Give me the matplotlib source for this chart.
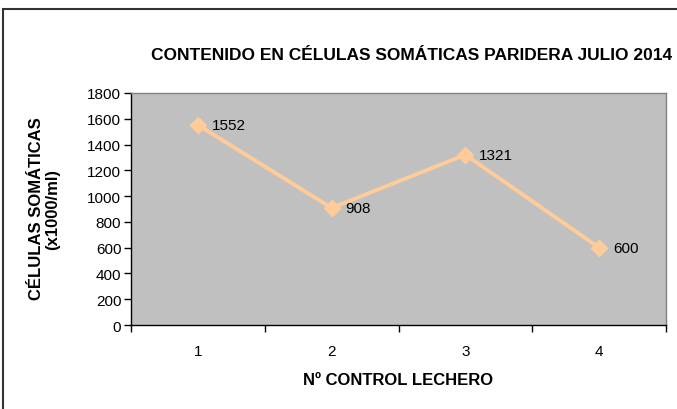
import matplotlib
matplotlib.use("Agg")
import matplotlib.pyplot as plt
from matplotlib.patches import Rectangle

plt.rcParams['font.family'] = ['Liberation Sans', 'DejaVu Sans']

categories = [1, 2, 3, 4]
values = [1552, 908, 1321, 600]
yticks = [0, 200, 400, 600, 800, 1000, 1200, 1400, 1600, 1800]
title = "CONTENIDO EN CÉLULAS SOMÁTICAS PARIDERA JULIO 2014"
ylabel = "CÉLULAS SOMÁTICAS\n(x1000/ml)"
xlabel = "Nº CONTROL LECHERO"

W, H = 677, 410
fig = plt.figure(figsize=(W/100, H/100), dpi=100)
fig.patch.set_facecolor('white')

# outer chart border
fig.add_artist(Rectangle((3/W, -0.1), 1.2, (H-10)/H + 0.1, transform=fig.transFigure,
                         fill=False, edgecolor='#333333', linewidth=1.5))

left, right, top, bottom = 131, 666, 94, 326
ax = fig.add_axes([left/W, 1-bottom/H, (right-left)/W, (bottom-top)/H])
ax.set_facecolor('#C0C0C0')

ax.plot(categories, values, color='#FFCC99', linewidth=2.8, marker='D',
        markersize=8.5, markerfacecolor='#FFCC99', markeredgecolor='#FFCC99', zorder=3)
for x, v in zip(categories, values):
    ax.annotate(str(v), (x, v), xytext=(10, 0), textcoords='offset points',
                ha='left', va='center', fontsize=11, color='black')

ax.set_xlim(0.5, 4.5)
ax.set_ylim(0, 1800)
ax.set_yticks(yticks)
ax.set_yticklabels([str(t) for t in yticks], fontsize=11)
ax.set_xticks(categories)
ax.set_xticklabels([str(c) for c in categories], fontsize=11)
ax.tick_params(axis='x', which='major', length=0, pad=14)
ax.set_xticks([0.5, 1.5, 2.5, 3.5, 4.5], minor=True)
ax.tick_params(axis='x', which='minor', length=5, width=1, direction='out')
ax.tick_params(axis='y', length=5, width=1, direction='out', pad=2)

for s in ['top', 'right']:
    ax.spines[s].set_color('#808080')
    ax.spines[s].set_linewidth(1)
for s in ['left', 'bottom']:
    ax.spines[s].set_color('black')
    ax.spines[s].set_linewidth(1)

ax.set_xlabel(xlabel, fontsize=12, fontweight='bold', va='center')
ax.xaxis.set_label_coords(0.5, (326-381)/232)
ax.set_ylabel(ylabel, fontsize=12, fontweight='bold', va='center', linespacing=1.1)
ax.yaxis.set_label_coords((45-131)/535, (326-209)/232)

fig.text(412/W, 1-55/H, title, ha='center', va='center', fontsize=12.5, fontweight='bold')

fig.savefig('out.png', dpi=100)
